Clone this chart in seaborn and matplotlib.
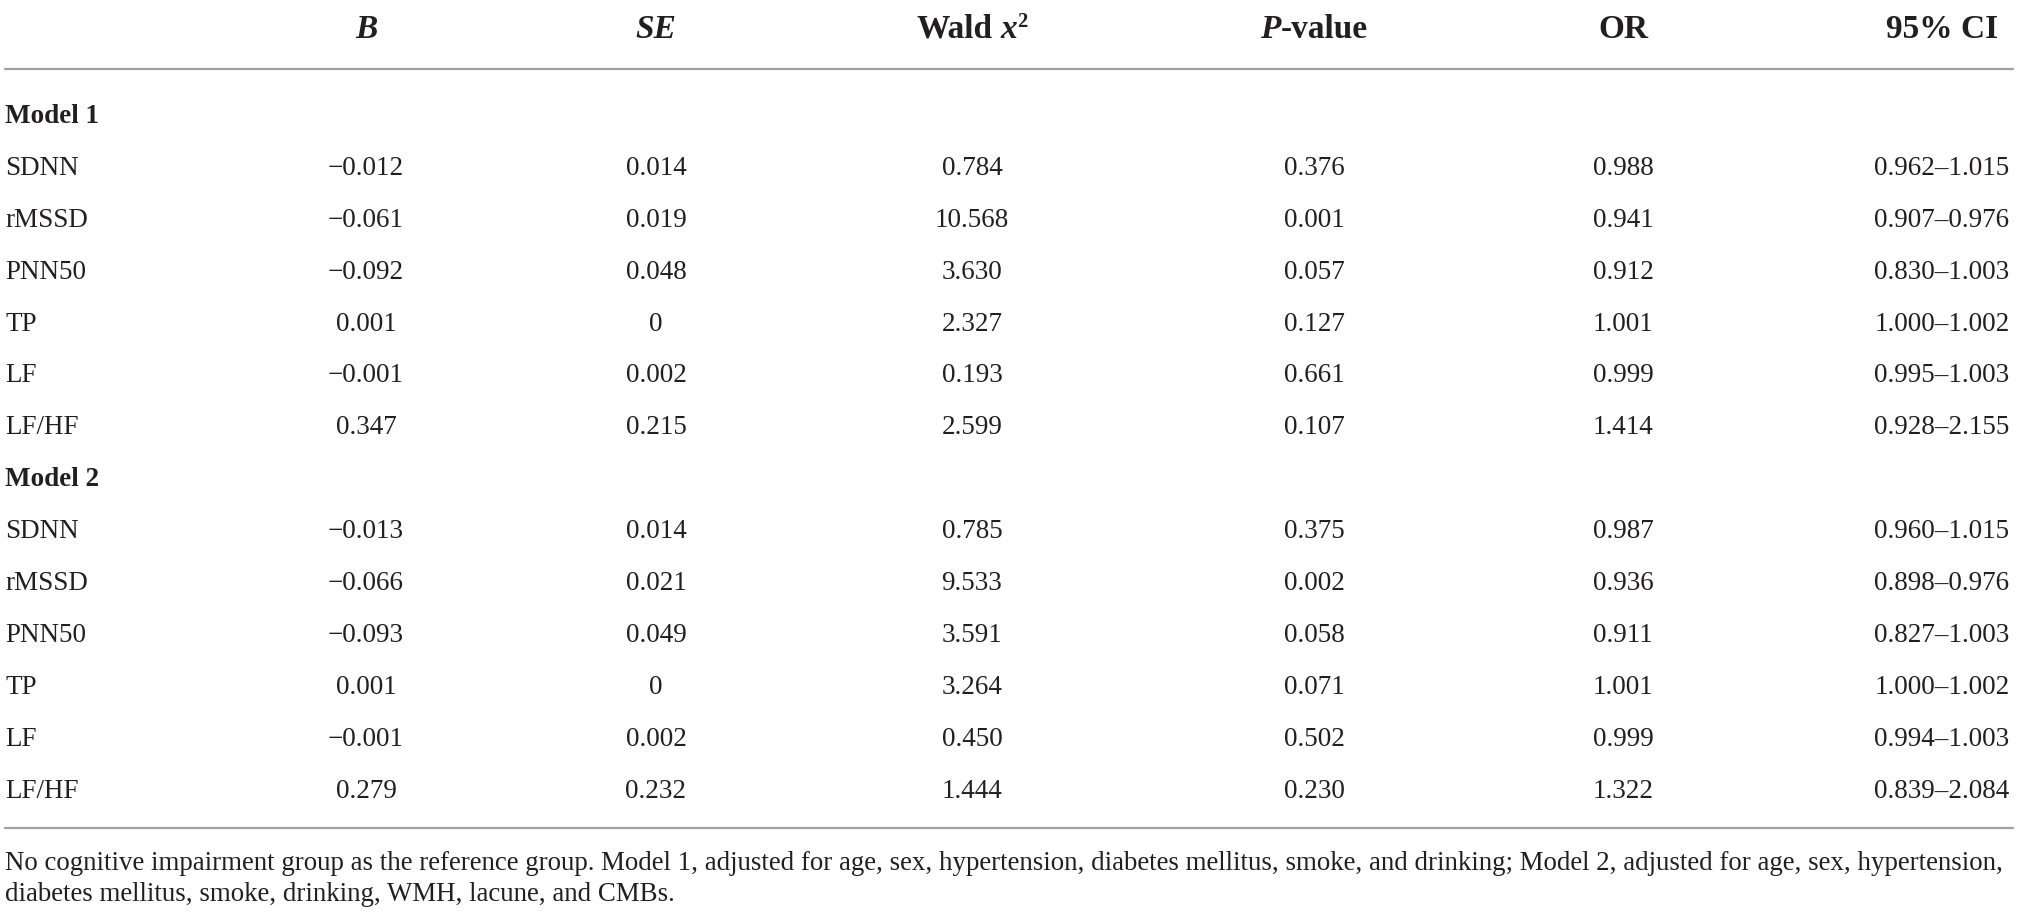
import matplotlib
matplotlib.use("Agg")
import matplotlib.pyplot as plt
import seaborn as sns
import pandas as pd

# ---------------- data ----------------
columns = ["B", "SE", "Wald x2", "P-value", "OR", "95% CI"]
groups = ["Model 1", "Model 2"]
variables = ["SDNN", "rMSSD", "PNN50", "TP", "LF", "LF/HF"]

m1_B = ["\u22120.012", "\u22120.061", "\u22120.092", "0.001", "\u22120.001", "0.347"]
m1_SE = ["0.014", "0.019", "0.048", "0", "0.002", "0.215"]
m1_wald = ["0.784", "10.568", "3.630", "2.327", "0.193", "2.599"]
m1_p = ["0.376", "0.001", "0.057", "0.127", "0.661", "0.107"]
m1_OR = ["0.988", "0.941", "0.912", "1.001", "0.999", "1.414"]
m1_CI = ["0.962\u20131.015", "0.907\u20130.976", "0.830\u20131.003",
         "1.000\u20131.002", "0.995\u20131.003", "0.928\u20132.155"]

m2_B = ["\u22120.013", "\u22120.066", "\u22120.093", "0.001", "\u22120.001", "0.279"]
m2_SE = ["0.014", "0.021", "0.049", "0", "0.002", "0.232"]
m2_wald = ["0.785", "9.533", "3.591", "3.264", "0.450", "1.444"]
m2_p = ["0.375", "0.002", "0.058", "0.071", "0.502", "0.230"]
m2_OR = ["0.987", "0.936", "0.911", "1.001", "0.999", "1.322"]
m2_CI = ["0.960\u20131.015", "0.898\u20130.976", "0.827\u20131.003",
         "1.000\u20131.002", "0.994\u20131.003", "0.839\u20132.084"]

footnote_lines = [
    "No cognitive impairment group as the reference group. Model 1, adjusted for age, sex, "
    "hypertension, diabetes mellitus, smoke, and drinking; Model 2, adjusted for age, sex, hypertension,",
    "diabetes mellitus, smoke, drinking, WMH, lacune, and CMBs.",
]

# ---------------- style ----------------
sns.set_theme(style="white")
plt.rcParams['font.family'] = ['Liberation Serif', 'DejaVu Serif']
TXT = "#231f20"
RULE = "#a0a0a0"
W, H = 2019, 919

fig = plt.figure(figsize=(W / 100, H / 100), dpi=100)
ax = fig.add_axes([0, 0, 1, 1])
renderer = fig.canvas.get_renderer()

col_x = [366, 656, 972, 1314, 1623, 1942]
label_x = 5
body_fs = 19.5
head_fs = 24
head_base = 38
row0_base = 123
row_step = 51.9


def text_width(s, **kw):
    t = ax.text(0, 0, s, **kw)
    w = t.get_window_extent(renderer).width
    t.remove()
    return w


# rules drawn through seaborn
rules = pd.DataFrame({"x": [5, 2013, 5, 2013], "y": [69, 69, 828, 828],
                      "rule": ["top", "top", "bottom", "bottom"]})
sns.lineplot(data=rules, x="x", y="y", units="rule", estimator=None,
             color=RULE, lw=1.6, ax=ax, legend=False)
ax.set_xlim(0, W)
ax.set_ylim(H, 0)
ax.axis("off")

hb = dict(fontsize=head_fs, fontweight="bold")
hbi = dict(fontsize=head_fs, fontweight="bold", fontstyle="italic")
sup = dict(fontsize=head_fs * 0.62, fontweight="bold")
space_w = text_width("a a", **hb) - text_width("aa", **hb)

header_pieces = [
    [("B", hbi, 0)],
    [("SE", hbi, 0)],
    [("Wald", hb, 0), (None, None, 0), ("x", hbi, 0), ("2", sup, -11)],
    [("P", hbi, 0), ("-value", hb, 0)],
    [("OR", hb, 0)],
    [("95% CI", hb, 0)],
]
for x, pcs in zip(col_x, header_pieces):
    widths = [space_w if t is None else text_width(t, **kw) for t, kw, dy in pcs]
    cur = x - sum(widths) / 2
    for (t, kw, dy), w in zip(pcs, widths):
        if t is not None:
            ax.text(cur, head_base + dy, t, ha="left", va="baseline", color=TXT, **kw)
        cur += w

# body
tables = {
    "Model 1": [m1_B, m1_SE, m1_wald, m1_p, m1_OR, m1_CI],
    "Model 2": [m2_B, m2_SE, m2_wald, m2_p, m2_OR, m2_CI],
}
row = 0
for g in groups:
    y = row0_base + row * row_step
    ax.text(label_x, y, g, ha="left", va="baseline", fontsize=body_fs,
            fontweight="bold", color=TXT)
    row += 1
    cols = tables[g]
    for i, v in enumerate(variables):
        y = row0_base + row * row_step
        ax.text(label_x, y, v, ha="left", va="baseline", fontsize=body_fs, color=TXT)
        for cx, col in zip(col_x, cols):
            ax.text(cx, y, col[i], ha="center", va="baseline", fontsize=body_fs, color=TXT)
        row += 1

# footnote: fit first line to the table width
target = 2013 - 5
w0 = text_width(footnote_lines[0], fontsize=body_fs)
foot_fs = body_fs * target / w0
foot_base = [870, 901]
for yb, line in zip(foot_base, footnote_lines):
    ax.text(5, yb, line, ha="left", va="baseline", fontsize=foot_fs, color=TXT)

fig.savefig("out.png", dpi=100)
